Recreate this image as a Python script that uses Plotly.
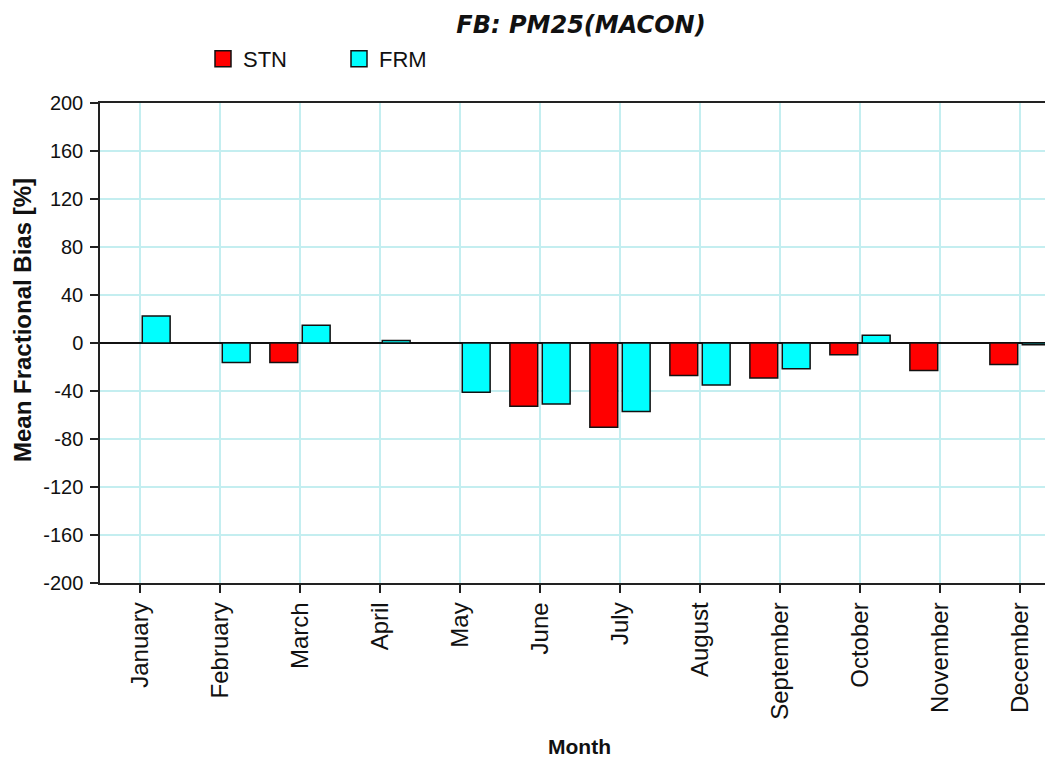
import plotly.graph_objects as go

months = ["January", "February", "March", "April", "May", "June",
          "July", "August", "September", "October", "November", "December"]
stn = [None, None, -16.3, None, None, -52.8, -70.3, -27.0, -29.2, -9.7, -23.0, -18.0]
frm = [22.5, -16.3, 14.7, 2.0, -41.1, -50.8, -57.0, -35.0, -21.4, 6.4, None, -1.5]
y_ticks = [200, 160, 120, 80, 40, 0, -40, -80, -120, -160, -200]
y_tick_labels = ["200", "160", "120", "80", "40", "0", "-40", "-80", "-120", "-160", "-200"]

RED = "#ff0000"
CYAN = "#00ffff"
GRID = "#c4eef0"
FONT = "Liberation Sans, Arial, sans-serif"

fig = go.Figure()
fig.add_trace(go.Bar(name="STN", x=months, y=stn, marker=dict(color=RED, line=dict(color="#111111", width=1.5)),
                     showlegend=False))
fig.add_trace(go.Bar(name="FRM", x=months, y=frm, marker=dict(color=CYAN, line=dict(color="#111111", width=1.5)),
                     showlegend=False))
# legend proxies
fig.add_trace(go.Scatter(name="STN", x=[None], y=[None], mode="markers",
                         marker=dict(symbol="square", size=16, color=RED, line=dict(color="#111111", width=1.5))))
fig.add_trace(go.Scatter(name="FRM", x=[None], y=[None], mode="markers",
                         marker=dict(symbol="square", size=16, color=CYAN, line=dict(color="#111111", width=1.5))))

OFF = 8  # page body margin
W, H = 1053 - OFF, 757 - OFF
ml, mr, mt = 100 - OFF, 1, 103 - OFF
mb = H - (583 - OFF)
PW = W - ml - mr
PH = H - mt - mb

fig.update_layout(
    width=W, height=H,
    margin=dict(l=ml, r=mr, t=mt, b=mb, pad=0),
    paper_bgcolor="white", plot_bgcolor="white",
    barmode="group", bargap=0.19, bargroupgap=0.14,
    font=dict(family=FONT, color="#111111"),
    title=dict(text="<b><i>FB: PM25(MACON)</i></b>", x=(581 - OFF) / W, xanchor="center",
               y=1 - (25 - OFF) / H, yanchor="middle", xref="container", yref="container",
               font=dict(size=24, family="DejaVu Sans, sans-serif", color="#111111")),
    legend=dict(orientation="h", x=(203 - OFF - ml) / PW, xanchor="left",
                y=1 + (103 - 59) / PH, yanchor="middle",
                font=dict(size=22, family=FONT), entrywidth=91, entrywidthmode="pixels",
                bgcolor="rgba(0,0,0,0)", itemsizing="trace"),
    showlegend=True,
)

fig.update_xaxes(
    type="category", categoryorder="array", categoryarray=months,
    range=[-0.5, 11.4],
    showgrid=True, gridcolor=GRID, gridwidth=1.5,
    showline=True, linecolor="#222222", linewidth=1.5, mirror=True,
    ticks="outside", ticklen=8, tickcolor="#222222", tickwidth=1.5,
    tickangle=-90, tickfont=dict(size=24, family=FONT, color="#111111"),
    zeroline=False,
)
fig.update_yaxes(
    range=[-200, 200], tickvals=y_ticks, ticktext=y_tick_labels,
    showgrid=True, gridcolor=GRID, gridwidth=1.5,
    showline=True, linecolor="#222222", linewidth=1.5, mirror=False,
    ticks="outside", ticklen=8, tickcolor="#222222", tickwidth=1.5,
    ticklabelstandoff=3,
    tickfont=dict(size=20, family=FONT, color="#111111"),
    zeroline=True, zerolinecolor="#111111", zerolinewidth=1.5,
)

fig.add_annotation(text="<b>Mean Fractional Bias [%]</b>", textangle=-90,
                   xref="paper", yref="paper", x=-(100 - 22) / PW, y=(583 - 320) / PH,
                   xanchor="center", yanchor="middle", showarrow=False,
                   font=dict(size=24, family=FONT, color="#111111"))
fig.add_annotation(text="<b>Month</b>", xref="paper", yref="paper",
                   x=(579 - 100) / PW, y=-(746 - 583) / PH,
                   xanchor="center", yanchor="middle", showarrow=False,
                   font=dict(size=21, family=FONT, color="#111111"))

fig.write_html("out.html")
